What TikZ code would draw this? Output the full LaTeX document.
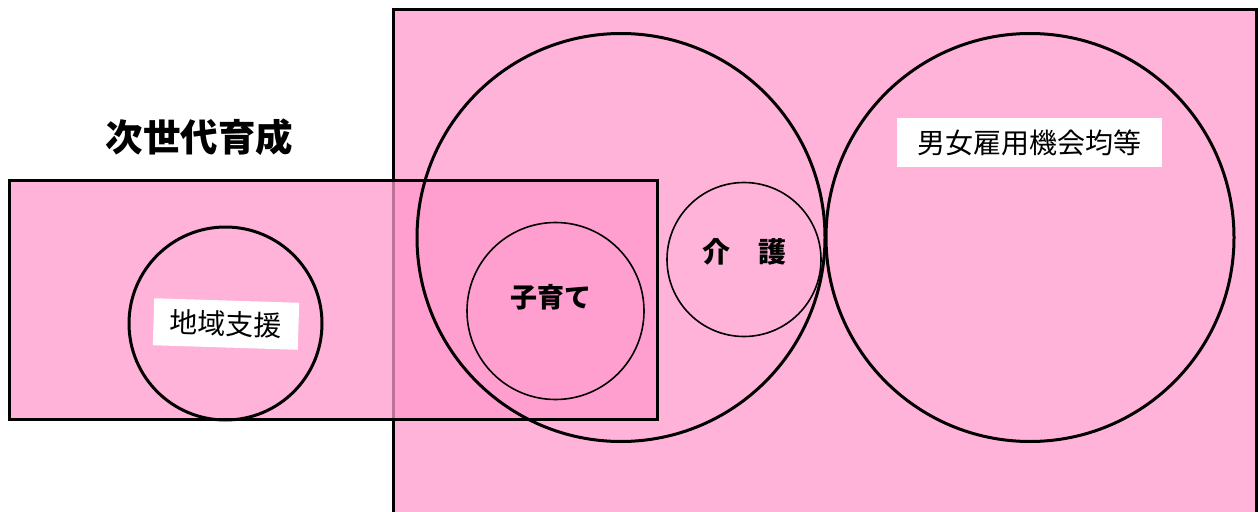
\documentclass[tikz,border=0pt]{standalone}
\usepackage{fontspec}
\newfontfamily\cjk{Noto Sans CJK JP}
\definecolor{pinkA}{RGB}{255,179,217}
\definecolor{pinkB}{RGB}{255,153,204}
\begin{document}
\begin{tikzpicture}[x=1pt,y=-1pt,
  thickline/.style={draw=black,line width=3pt},
  thinline/.style={draw=black,line width=1.6pt},
  whitelabel/.style={fill=white,inner sep=0pt,font=\cjk},
  boldlabel/.style={inner sep=0pt,font=\cjk\bfseries}]
\useasboundingbox (0,0) rectangle (1260,511);
% large right rectangle
\path[thickline,fill=pinkA] (393.5,10) rectangle (1256,530);
% left rectangle (translucent)
\path[fill=pinkB,fill opacity=0.75] (9.5,180.5) rectangle (657,419);
\node[draw=black,line width=3pt,minimum width=647.5pt,minimum height=238.5pt,inner sep=0pt] (leftrect) at (333.25,299.75) {};
% circles
\node[thickline,circle,minimum size=408pt,inner sep=0pt] (care) at (621,237.5) {};
\node[thickline,circle,minimum size=408pt,inner sep=0pt] (equal) at (1030,237.5) {};
\node[thinline,circle,minimum size=154pt,inner sep=0pt] (kaigo) at (744,259.5) {};
\node[thinline,circle,minimum size=177pt,inner sep=0pt] (kosodate) at (555.5,311) {};
\node[thickline,circle,minimum size=193pt,inner sep=0pt] (chiiki) at (225.5,323.5) {};
% labels
\node[boldlabel,font=\cjk\bfseries\fontsize{37.5}{40}\selectfont] (title) at (199.5,137) {次世代育成};
\node[boldlabel,font=\cjk\bfseries\fontsize{27}{30}\selectfont] (kosolab) at (551,297) {子育て};
\node[boldlabel,font=\cjk\bfseries\fontsize{28}{30}\selectfont] (kaigolab) at (744,252) {介　護};
\node[whitelabel,minimum width=145pt,minimum height=47pt,rotate=-1.8,font=\cjk\fontsize{28}{30}\selectfont] (chiikilab) at (226,324) {地域支援};
\node[whitelabel,minimum width=265pt,minimum height=49pt,font=\cjk\fontsize{28}{30}\selectfont] (equallab) at (1029.5,142.5) {男女雇用機会均等};
\end{tikzpicture}
\end{document}
